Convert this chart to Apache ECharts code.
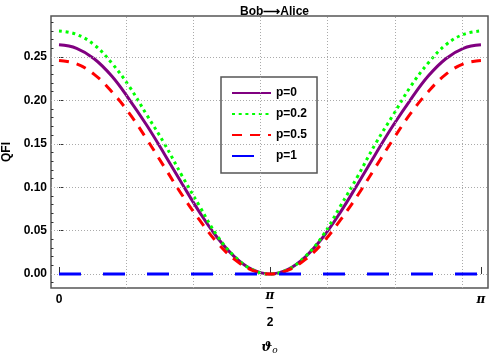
<!DOCTYPE html>
<html>
<head>
<meta charset="utf-8">
<script src="https://cdn.jsdelivr.net/npm/echarts@6/dist/echarts.min.js"></script>
<style>html,body{margin:0;padding:0;background:#fff;}#c{width:490px;height:354px;}</style>
</head>
<body>
<div id="c"></div>
<script>
// theta values (radians), k*pi/24
const theta = [0, 0.1309, 0.2618, 0.3927, 0.5236, 0.6545, 0.7854, 0.9163, 1.0472, 1.1781, 1.3090, 1.4399, 1.5708,
  1.7017, 1.8326, 1.9635, 2.0944, 2.2253, 2.3562, 2.4871, 2.6180, 2.7489, 2.8798, 3.0107, 3.1416];
const qfiP0  = [0.264, 0.260, 0.248, 0.228, 0.201, 0.171, 0.138, 0.104, 0.071, 0.042, 0.0195, 0.005, 0,
  0.005, 0.0195, 0.042, 0.071, 0.104, 0.138, 0.171, 0.201, 0.228, 0.248, 0.260, 0.264];
const qfiP02 = [0.280, 0.276, 0.264, 0.243, 0.216, 0.183, 0.150, 0.113, 0.078, 0.044, 0.020, 0.005, 0,
  0.005, 0.020, 0.044, 0.078, 0.113, 0.150, 0.183, 0.216, 0.243, 0.264, 0.276, 0.280];
const qfiP05 = [0.246, 0.242, 0.230, 0.210, 0.185, 0.155, 0.123, 0.091, 0.062, 0.036, 0.0165, 0.0042, 0,
  0.0042, 0.0165, 0.036, 0.062, 0.091, 0.123, 0.155, 0.185, 0.210, 0.230, 0.242, 0.246];
const qfiP1  = [0, 0, 0, 0, 0, 0, 0, 0, 0, 0, 0, 0, 0, 0, 0, 0, 0, 0, 0, 0, 0, 0, 0, 0, 0];
const seriesNames = ['p=0', 'p=0.2', 'p=0.5', 'p=1'];
const xTickValues = [0, Math.PI / 2, Math.PI];
const xGridValues = [0.5, 1.0, 1.5, 2.0, 2.5, 3.0];
const yTickValues = [0, 0.05, 0.10, 0.15, 0.20, 0.25];
const yMinorTickValues = [-0.01, 0.01, 0.02, 0.03, 0.04, 0.06, 0.07, 0.08, 0.09, 0.11, 0.12, 0.13, 0.14,
  0.16, 0.17, 0.18, 0.19, 0.21, 0.22, 0.23, 0.24, 0.26, 0.27, 0.28, 0.29];

const pair = (ys) => theta.map((t, i) => [t, ys[i]]);
const FONT = 'Liberation Sans, Arial, sans-serif';

const chart = echarts.init(document.getElementById('c'), null, {renderer: 'canvas'});
const xMin = -0.0596, xMax = 3.194, yMin = -0.01613, yMax = 0.2972;

chart.setOption({
  animation: false,
  backgroundColor: '#fff',
  title: {
    text: 'Bob\u27F6Alice', left: 269.5, textAlign: 'center', top: 1,
    textStyle: {fontFamily: FONT, fontWeight: 'bold', fontSize: 12, color: '#000'}
  },
  grid: {left: 51, right: 2, top: 16, bottom: 66, containLabel: false, outerBoundsMode: 'none',
    show: true, borderColor: '#555', borderWidth: 1.5, backgroundColor: 'transparent'},
  legend: {
    orient: 'vertical', left: 221, top: 77,
    data: seriesNames,
    itemWidth: 39, itemHeight: 14, itemGap: 7,
    padding: [9, 10, 10, 10],
    backgroundColor: '#fff', borderColor: '#555', borderWidth: 1.5,
    itemStyle: {opacity: 0},
    textStyle: {fontFamily: FONT, fontWeight: 'bold', fontSize: 12, color: '#000', lineHeight: 14},
    formatter: (n) => n
  },
  xAxis: {
    type: 'value', min: xMin, max: xMax,
    name: '{a|\u03D1}{b|o}', nameLocation: 'middle', nameGap: 52,
    nameTextStyle: {rich: {
      a: {fontFamily: 'DejaVu Serif', fontStyle: 'italic', fontWeight: 'bold', fontSize: 13, color: '#000'},
      b: {fontFamily: 'DejaVu Serif', fontStyle: 'italic', fontSize: 9, color: '#000', padding: [6, 0, 0, 0]}
    }},
    axisLine: {show: false},
    splitLine: {show: false},
    axisTick: {show: true, inside: true, length: 7, customValues: xTickValues,
      lineStyle: {color: '#333', width: 1}},
    axisLabel: {
      customValues: xTickValues, margin: 2, showMinLabel: true, showMaxLabel: true,
      formatter: function (v) {
        if (Math.abs(v) < 1e-6) return '{n|0}';
        if (Math.abs(v - Math.PI / 2) < 1e-6) return '{p|\u03C0}\n{f|\u2013}\n{t|2}';
        if (Math.abs(v - Math.PI) < 1e-6) return '{q|\u03C0}';
        return '';
      },
      rich: {
        n: {fontFamily: FONT, fontWeight: 'bold', fontSize: 12, lineHeight: 19, color: '#000'},
        q: {fontFamily: 'DejaVu Serif', fontStyle: 'italic', fontWeight: 'bold', fontSize: 12, lineHeight: 19, color: '#000'},
        p: {fontFamily: 'DejaVu Serif', fontStyle: 'italic', fontWeight: 'bold', fontSize: 12, lineHeight: 12, color: '#000'},
        f: {fontFamily: FONT, fontWeight: 'bold', fontSize: 13, lineHeight: 10, color: '#000'},
        t: {fontFamily: FONT, fontWeight: 'bold', fontSize: 12, lineHeight: 22, color: '#000'}
      }
    }
  },
  yAxis: [{
    type: 'value', min: yMin, max: yMax,
    name: 'QFI', nameLocation: 'middle', nameGap: 37, nameRotate: 90,
    nameTextStyle: {fontFamily: FONT, fontWeight: 'bold', fontSize: 12, color: '#000'},
    axisLine: {show: false},
    splitLine: {show: false},
    axisTick: {show: true, inside: true, length: 4, customValues: yTickValues,
      lineStyle: {color: '#333', width: 1}},
    axisLabel: {customValues: yTickValues, margin: 4, fontFamily: FONT, fontWeight: 'bold', fontSize: 12, color: '#000',
      formatter: (v) => v.toFixed(2)}
  }, {
    type: 'value', min: yMin, max: yMax, position: 'right', offset: -437,
    axisLine: {show: false}, splitLine: {show: false},
    axisLabel: {show: false},
    axisTick: {show: true, inside: false, length: 2.5, customValues: yMinorTickValues,
      lineStyle: {color: '#333', width: 1}}
  }],
  series: [
    {
      name: 'grid', type: 'line', data: [], silent: true, z: 1,
      markLine: {
        silent: true, symbol: 'none', animation: false,
        label: {show: false},
        lineStyle: {color: '#aaa', width: 1, type: [1, 2]},
        data: xGridValues.map(v => ({xAxis: v})).concat(yTickValues.map(v => ({yAxis: v})))
      }
    },
    {name: seriesNames[0], type: 'line', data: pair(qfiP0), smooth: 0.4, showSymbol: false, symbol: 'none', z: 3,
      itemStyle: {color: '#800080'}, lineStyle: {color: '#800080', width: 3}},
    {name: seriesNames[1], type: 'line', data: pair(qfiP02), smooth: 0.4, showSymbol: false, symbol: 'none', z: 4,
      itemStyle: {color: '#00ff00'}, lineStyle: {color: '#00ff00', width: 3, type: [3, 3.7], cap: 'butt'}},
    {name: seriesNames[2], type: 'line', data: pair(qfiP05), smooth: 0.4, showSymbol: false, symbol: 'none', z: 5,
      itemStyle: {color: '#ff0000'}, lineStyle: {color: '#ff0000', width: 3, type: [10, 8], cap: 'butt'}},
    {name: seriesNames[3], type: 'line', data: pair(qfiP1), smooth: false, showSymbol: false, symbol: 'none', z: 6,
      itemStyle: {color: '#0000ff'}, lineStyle: {color: '#0000ff', width: 3, type: [22, 22], cap: 'butt'}}
  ]
});
</script>
</body>
</html>
